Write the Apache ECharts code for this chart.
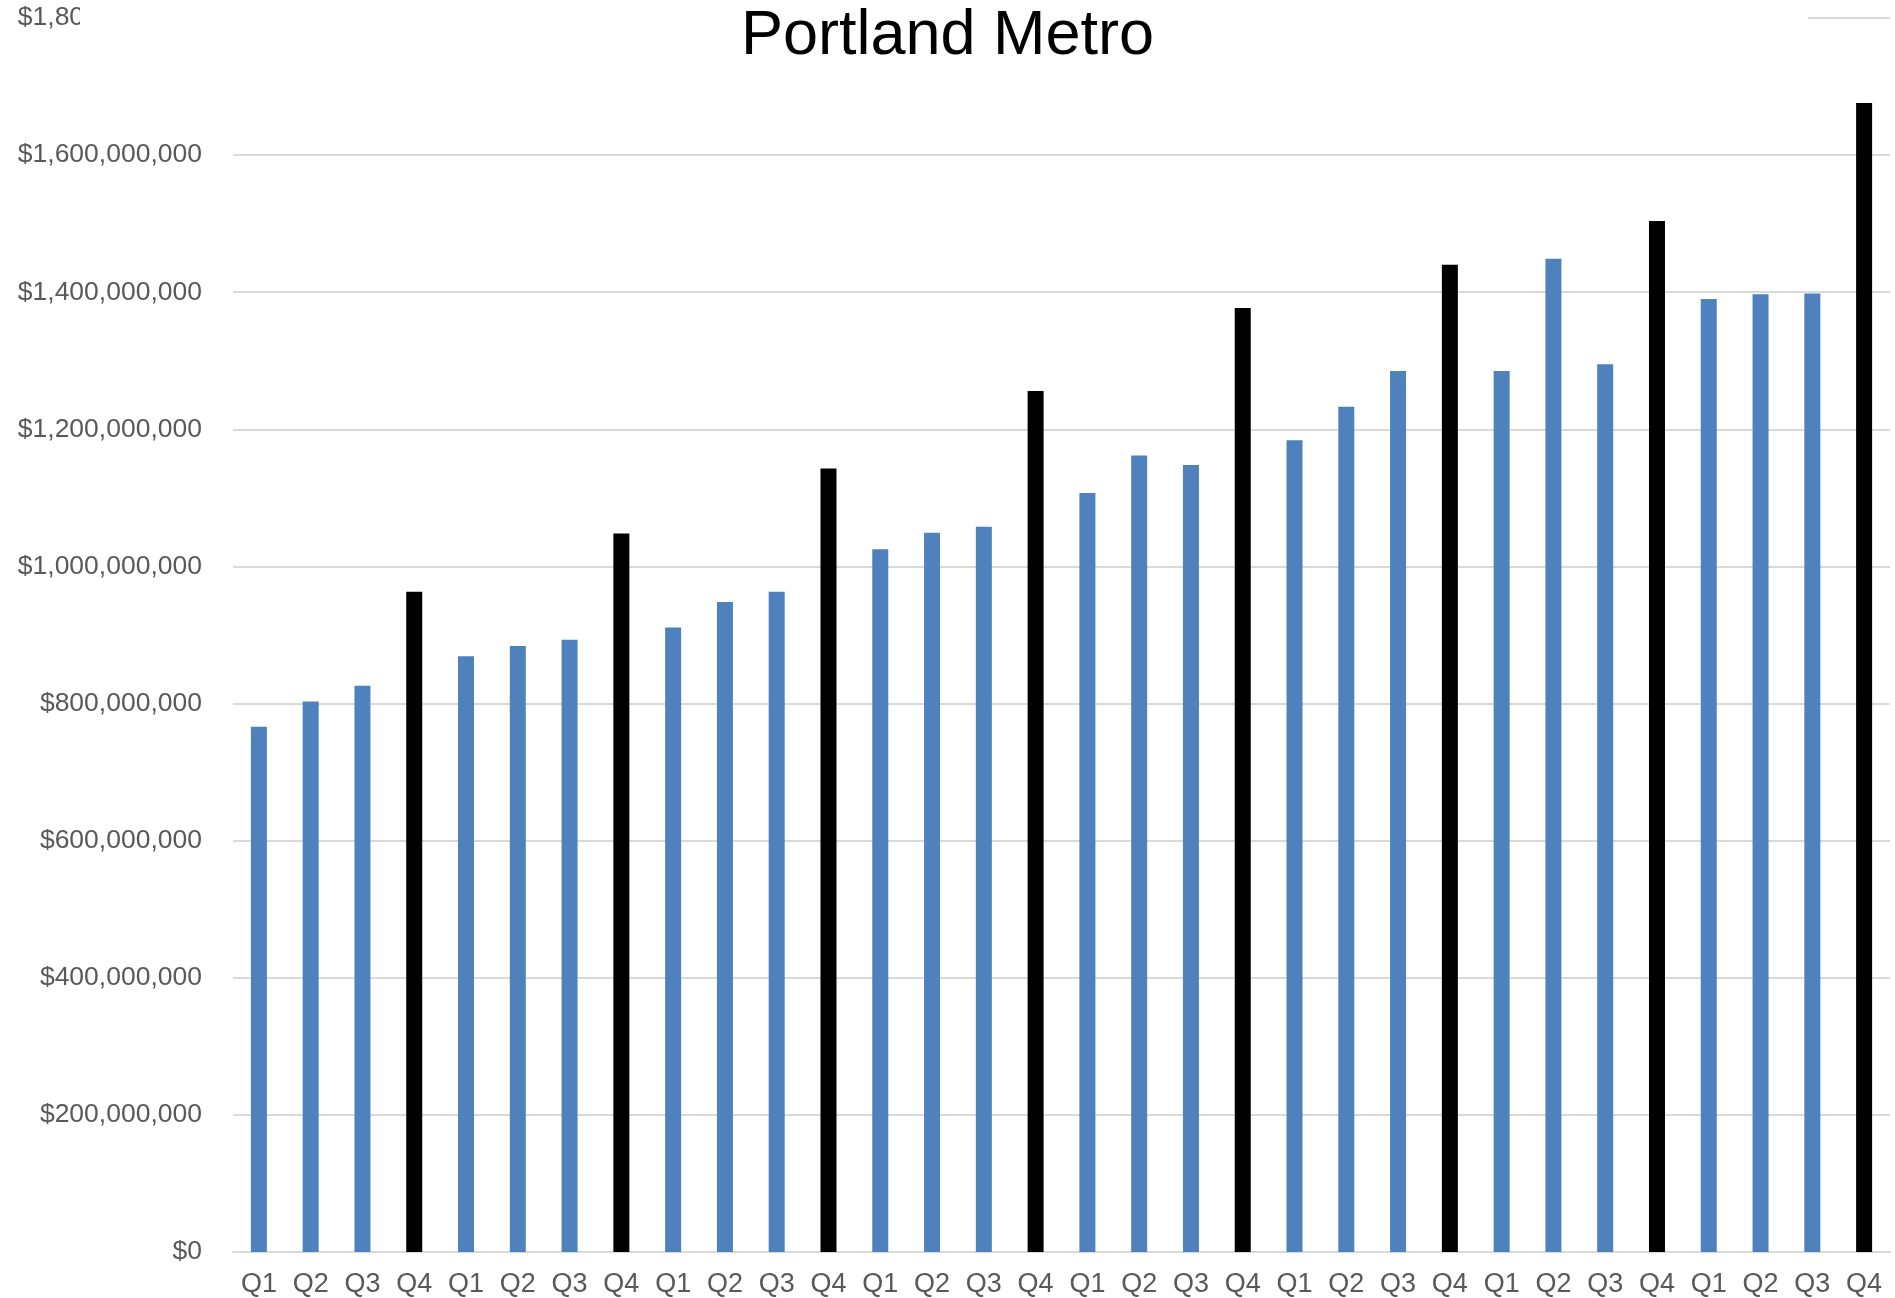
<!DOCTYPE html>
<html>
<head>
<meta charset="utf-8">
<title>Portland Metro</title>
<script src="https://cdn.jsdelivr.net/npm/echarts@6/dist/echarts.min.js"></script>
<style>
  html, body { margin: 0; padding: 0; background: #fff; }
  #main { width: 1895px; height: 1298px; }
</style>
</head>
<body>
<div id="main"></div>
<script>
// quarters, eight years in a row
var quarters = ['Q1', 'Q2', 'Q3', 'Q4', 'Q1', 'Q2', 'Q3', 'Q4',
                'Q1', 'Q2', 'Q3', 'Q4', 'Q1', 'Q2', 'Q3', 'Q4',
                'Q1', 'Q2', 'Q3', 'Q4', 'Q1', 'Q2', 'Q3', 'Q4',
                'Q1', 'Q2', 'Q3', 'Q4', 'Q1', 'Q2', 'Q3', 'Q4'];

// values, in millions of dollars
var valuesMillions = [766, 803, 826, 963, 869, 884, 893, 1048,
                      911, 948, 963, 1143, 1025, 1049, 1058, 1256,
                      1107, 1162, 1148, 1377, 1184, 1233, 1285, 1440,
                      1285, 1449, 1295, 1504, 1390, 1397, 1398, 1676];

var yMin = 0;
var yMax = 1800000000;
var yStep = 200000000;

var blue = '#4F81BD';
var black = '#000000';

function money(v) {
    return '$' + String(v).replace(/\B(?=(\d{3})+(?!\d))/g, ',');
}

var myChart = echarts.init(document.getElementById('main'));

var option = {
    backgroundColor: '#ffffff',
    animation: false,
    textStyle: { fontFamily: 'Liberation Sans, Arial, sans-serif' },
    title: {
        text: 'Portland Metro',
        left: 'center',
        top: 0,
        z: 200,
        textStyle: {
            fontFamily: 'Liberation Sans, Arial, sans-serif',
            fontSize: 63,
            fontWeight: 'normal',
            color: '#000'
        }
    },
    // the title box in the original hides part of the top gridline and label
    graphic: [{
        type: 'rect',
        z: 150,
        shape: { x: 80, y: 0, width: 1728, height: 42 },
        style: { fill: '#fff' }
    }],
    grid: {
        left: 233,
        right: 5,
        top: 18,
        bottom: 45,
        containLabel: false
    },
    xAxis: {
        type: 'category',
        data: quarters,
        axisTick: { show: false },
        axisLine: { lineStyle: { color: '#d9d9d9', width: 2 } },
        axisLabel: {
            interval: 0,
            margin: 19,
            fontSize: 27,
            color: '#595959'
        }
    },
    yAxis: {
        type: 'value',
        min: yMin,
        max: yMax,
        interval: yStep,
        axisLine: { show: false },
        axisTick: { show: false },
        splitLine: { lineStyle: { color: '#d9d9d9', width: 2 } },
        axisLabel: {
            margin: 31,
            fontSize: 26.5,
            color: '#595959',
            formatter: money
        }
    },
    series: [{
        type: 'bar',
        barWidth: 16,
        data: valuesMillions.map(function (v) { return v * 1000000; }),
        itemStyle: {
            color: function (p) {
                return p.name === 'Q4' ? black : blue;
            }
        }
    }]
};

myChart.setOption(option);
</script>
</body>
</html>
